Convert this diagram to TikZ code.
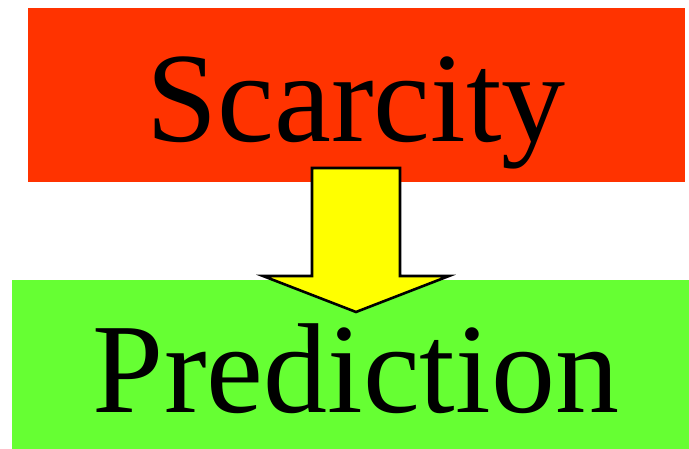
\documentclass[tikz,border=0pt]{standalone}
\usepackage{fontspec}
\setmainfont{Liberation Serif}
\usetikzlibrary{calc}
\definecolor{scarcityred}{HTML}{FF3300}
\definecolor{predictgreen}{HTML}{66FF33}
\definecolor{arrowyellow}{HTML}{FFFF00}

\begin{document}
\begin{tikzpicture}[x=1pt,y=1pt,
  box/.style={rectangle, inner sep=0pt, outer sep=0pt},
  word/.style={anchor=base, inner sep=0pt, font=\fontsize{128}{128}\selectfont},
  blockarrow/.style={fill=arrowyellow, draw=black, line width=2.6pt, line join=miter}]
\useasboundingbox (0,0) rectangle (689,449);
\node[box, fill=scarcityred, minimum width=657, minimum height=174] (scarcity) at (356.5,354) {};
\node[box, fill=predictgreen, minimum width=677, minimum height=169] (prediction) at (350.5,84.5) {};
\node[word] (scarcitytext) at (356,307) {Scarcity};
\node[word] (predictiontext) at (356,36) {Prediction};
% block arrow from one box into the other
\coordinate (shafttop) at ($(scarcity.south)+(-0.5,14)$);
\coordinate (tip) at ($(shafttop |- prediction.north)+(0,-32)$);
\draw[blockarrow] ($(shafttop)+(-44,0)$) -- ++(88,0) -- ++(0,-108) -- ++(49,0)
  -- (tip) -- ++(-93,36) -- ++(49,0) -- cycle;
\end{tikzpicture}
\end{document}
